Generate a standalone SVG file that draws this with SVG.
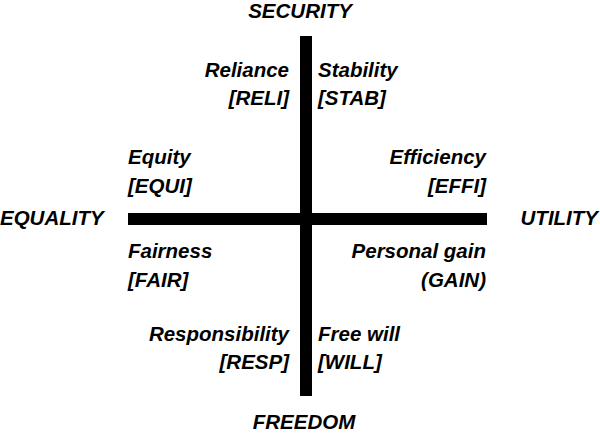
<svg xmlns="http://www.w3.org/2000/svg" width="600" height="434" viewBox="0 0 600 434">
<style>
text{font-family:"Liberation Sans",Arial,sans-serif;font-weight:bold;font-style:italic;font-size:20.5px;fill:#000}
.r{text-anchor:end}.c{text-anchor:middle}
</style>
<rect width="600" height="434" fill="#fff"/>
<g id="axes">
<rect x="300" y="36" width="12" height="360" fill="#000"/>
<rect x="128" y="213" width="359" height="12" fill="#000"/>
</g>
<g id="security"><text class="c" x="300" y="18">SECURITY</text></g>
<g id="freedom"><text class="c" x="304" y="429">FREEDOM</text></g>
<g id="equality"><text x="0" y="225">EQUALITY</text></g>
<g id="utility"><text class="r" x="598" y="225">UTILITY</text></g>
<g id="reli"><text class="r" x="289" y="77">Reliance</text><text class="r" x="289" y="105">[RELI]</text></g>
<g id="stab"><text x="318" y="77">Stability</text><text x="318" y="105">[STAB]</text></g>
<g id="equi"><text x="128" y="164">Equity</text><text x="128" y="193">[EQUI]</text></g>
<g id="effi"><text class="r" x="486" y="164">Efficiency</text><text class="r" x="486" y="193">[EFFI]</text></g>
<g id="fair"><text x="128" y="258">Fairness</text><text x="128" y="287">[FAIR]</text></g>
<g id="gain"><text class="r" x="486" y="258">Personal gain</text><text class="r" x="486" y="287">(GAIN)</text></g>
<g id="resp"><text class="r" x="289" y="341">Responsibility</text><text class="r" x="289" y="369">[RESP]</text></g>
<g id="will"><text x="318" y="341">Free will</text><text x="318" y="369">[WILL]</text></g>
</svg>
